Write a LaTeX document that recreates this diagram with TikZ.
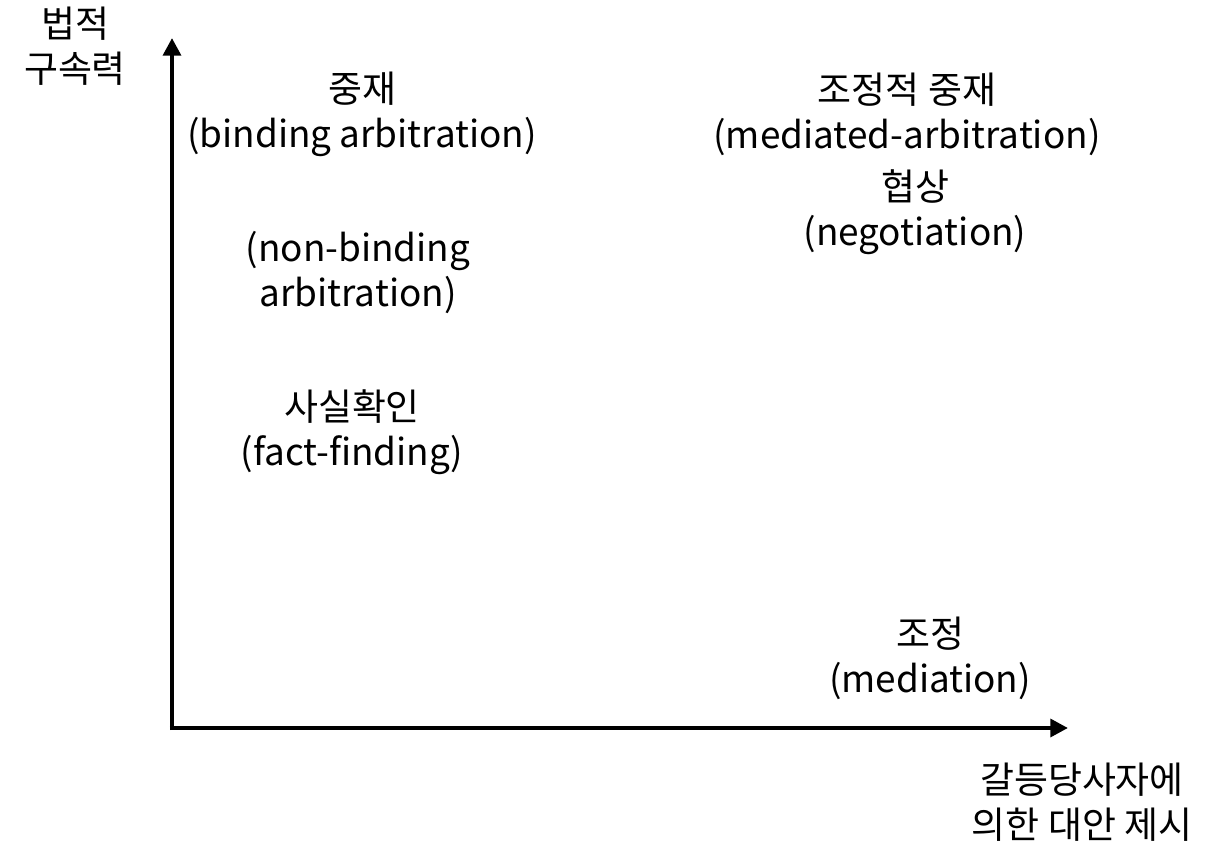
\documentclass[tikz,border=0pt]{standalone}
\usepackage{fontspec}
\setmainfont{Noto Sans CJK KR}
\usetikzlibrary{arrows.meta}
\tikzset{
  lbl/.style={align=center, font=\fontsize{10.5}{12.8}\selectfont, inner sep=0pt},
  axis/.style={line width=1.2pt, -{Triangle[length=5pt,width=5pt]}}
}
\begin{document}
\begin{tikzpicture}[x=0.01cm, y=-0.01cm]
      \useasboundingbox (0,0) rectangle (1205,845);
      \coordinate (origin) at (172,728);
      \coordinate (ytop) at (172,38);
      \coordinate (xend) at (1068,728);
      \draw[axis] ([yshift=-0.6pt]origin) -- (ytop);
      \draw[axis] ([xshift=-0.6pt]origin) -- (xend);
      \node[lbl] (ylabel) at (75,46) {법적\\구속력};
      \node[lbl] (xlabel) at (1082,802) {갈등당사자에\\의한 대안 제시};
      \node[lbl] (binding) at (362,114) {중재\\(binding arbitration)};
      \node[lbl] (medarb) at (907,114) {조정적 중재\\(mediated-arbitration)};
      \node[lbl] (nego) at (915,212) {협상\\(negotiation)};
      \node[lbl] (nonbinding) at (358,273) {(non-binding\\arbitration)};
      \node[lbl] (fact) at (352,432) {사실확인\\(fact-finding)};
      \node[lbl] (mediation) at (930,658) {조정\\(mediation)};
    \end{tikzpicture}
\end{document}
